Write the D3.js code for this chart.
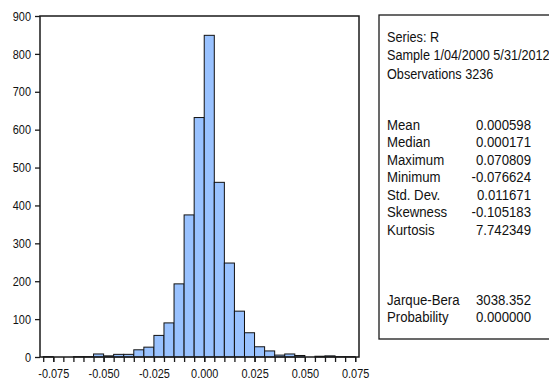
<!DOCTYPE html>
<html>
<head>
<meta charset="utf-8">
<script src="https://cdn.jsdelivr.net/npm/d3@7"></script>
<style>
  body { margin: 0; background: #fff; }
  text { font-family: "Liberation Sans", Arial, sans-serif; fill: #111; }
</style>
</head>
<body>
<div id="chart"></div>
<script>
// histogram bins (lower edge) and counts
const binLo = [-0.080, -0.075, -0.070, -0.065, -0.060, -0.055, -0.050, -0.045, -0.040, -0.035,
               -0.030, -0.025, -0.020, -0.015, -0.010, -0.005, 0.000, 0.005, 0.010, 0.015,
               0.020, 0.025, 0.030, 0.035, 0.040, 0.045, 0.050, 0.055, 0.060, 0.065, 0.070];
const counts = [1, 0, 0, 1, 1, 8, 3, 7, 7, 19,
                26, 57, 90, 193, 375, 632, 849, 461, 248, 121,
                64, 27, 16, 5, 8, 4, 0, 2, 3, 1, 1];
const binWidth = 0.005;

const xTicks = [-0.075, -0.050, -0.025, 0.000, 0.025, 0.050, 0.075];
const xMinor = [-0.080, -0.075, -0.070, -0.065, -0.060, -0.055, -0.050, -0.045, -0.040, -0.035,
                -0.030, -0.025, -0.020, -0.015, -0.010, -0.005, 0.000, 0.005, 0.010, 0.015,
                0.020, 0.025, 0.030, 0.035, 0.040, 0.045, 0.050, 0.055, 0.060, 0.065, 0.070, 0.075];
const yTicks = [0, 100, 200, 300, 400, 500, 600, 700, 800, 900];

// stats panel
const headLines = ["Series: R", "Sample 1/04/2000 5/31/2012", "Observations 3236"];
const statNames = ["Mean", "Median", "Maximum", "Minimum", "Std. Dev.", "Skewness", "Kurtosis"];
const statValues = ["0.000598", "0.000171", "0.070809", "-0.076624", "0.011671", "-0.105183", "7.742349"];
const testNames = ["Jarque-Bera", "Probability"];
const testValues = ["3038.352", "0.000000"];

const W = 549, H = 381;
const plot = {left: 40, top: 16, right: 359, bottom: 357};
const sx = 0.84;   // narrow font look

const svg = d3.select("#chart").append("svg")
    .attr("width", W)
    .attr("height", H);

let x = d3.scaleLinear()
    .domain([-0.0816, 0.0769])
    .range([plot.left, plot.right]);

let y = d3.scaleLinear()
    .domain([0, 900])
    .range([plot.bottom, plot.top]);

// bars
svg.append("g")
    .selectAll("rect")
    .data(binLo.map((d, i) => ({lo: d, n: counts[i]})).filter(d => d.n > 0))
    .enter()
    .append("rect")
    .attr("x", d => x(d.lo))
    .attr("y", d => y(d.n))
    .attr("width", d => x(d.lo + binWidth) - x(d.lo))
    .attr("height", d => y(0) - y(d.n))
    .attr("fill", "#99c2ff")
    .attr("stroke", "#111")
    .attr("stroke-width", 1);

// frame
svg.append("rect")
    .attr("x", plot.left)
    .attr("y", plot.top)
    .attr("width", plot.right - plot.left)
    .attr("height", plot.bottom - plot.top)
    .attr("fill", "none")
    .attr("stroke", "#1a1a1a")
    .attr("stroke-width", 1.5);

// y axis
let yAxis = svg.append("g")
    .attr("transform", `translate(${plot.left},0)`)
    .call(d3.axisLeft(y).tickValues(yTicks).tickSize(5).tickPadding(4).tickFormat(d3.format("d")));
yAxis.select(".domain").remove();
yAxis.selectAll("line").attr("stroke", "#1a1a1a").attr("stroke-width", 1.3);
yAxis.selectAll("text")
    .style("font-size", "13px").attr("fill", "#111")
    .attr("x", -9 / sx)
    .attr("transform", `scale(${sx},1)`);

// x axis minor ticks
let xAxisMinor = svg.append("g")
    .attr("transform", `translate(0,${plot.bottom})`)
    .call(d3.axisBottom(x).tickValues(xMinor).tickSize(5).tickFormat(""));
xAxisMinor.select(".domain").remove();
xAxisMinor.selectAll("line").attr("stroke", "#1a1a1a").attr("stroke-width", 1.3);

// x axis labels
let xAxis = svg.append("g")
    .attr("transform", `translate(0,${plot.bottom})`)
    .call(d3.axisBottom(x).tickValues(xTicks).tickSize(5).tickPadding(7).tickFormat(d3.format(".3f")));
xAxis.select(".domain").remove();
xAxis.selectAll("line").attr("stroke", "#1a1a1a").attr("stroke-width", 1.3);
xAxis.selectAll("text")
    .style("font-size", "13px").attr("fill", "#111")
    .attr("transform", `scale(${sx},1)`)
    .text(d => d3.format(".3f")(d).replace("−", "-"));

// stats box
const box = {left: 379, top: 15, bottom: 339};
svg.append("rect")
    .attr("x", box.left)
    .attr("y", box.top)
    .attr("width", W - box.left + 10)
    .attr("height", box.bottom - box.top)
    .attr("fill", "#fff")
    .attr("stroke", "#1a1a1a")
    .attr("stroke-width", 1.3);

const tx = 387, vx = 531, fs = "15px", lh = 17.5;
let g = svg.append("g");

function boxText(list, y0, step, xpos, anchor, scl) {
    g.append("g").selectAll("text").data(list).enter().append("text")
        .attr("transform", (d, i) => `translate(${xpos},${y0 + i * step}) scale(${scl},1)`)
        .attr("text-anchor", anchor)
        .style("font-size", fs)
        .text(d => d);
}
boxText(headLines, 41.5, 18.5, tx, "start", 0.845);
boxText(statNames, 129.5, lh, tx, "start", 0.88);
boxText(statValues, 129.5, lh, vx, "end", 0.88);
boxText(testNames, 304.5, lh, tx, "start", 0.88);
boxText(testValues, 304.5, lh, vx, "end", 0.88);
</script>
</body>
</html>
